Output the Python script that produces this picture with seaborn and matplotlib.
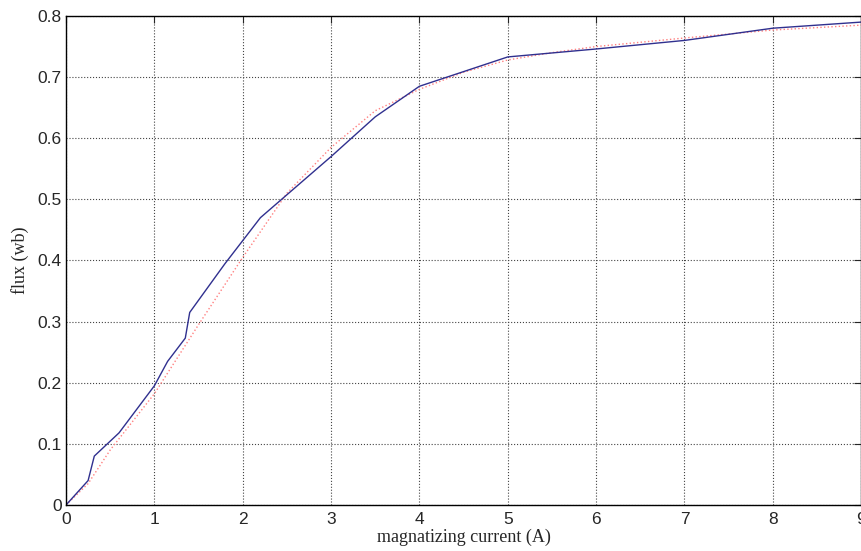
import pandas as pd
import matplotlib
matplotlib.use("Agg")
import matplotlib.pyplot as plt
import seaborn as sns

# measured curve (solid blue)
current_meas = [0, 0.25, 0.32, 0.6, 1.0, 1.15, 1.35, 1.4, 1.8, 2.2, 3.0, 3.5, 4.0, 5.0, 6.0, 7.0, 8.0, 9.0]
flux_meas = [0, 0.04, 0.08, 0.118, 0.195, 0.235, 0.273, 0.315, 0.395, 0.47, 0.57, 0.635, 0.685, 0.733, 0.746, 0.76, 0.78, 0.79]

# fitted curve (red dotted)
current_fit = [0, 0.25, 0.5, 1.0, 1.5, 2.0, 2.5, 3.0, 3.5, 4.0, 4.5, 5.0, 5.5, 6.0, 7.0, 8.0, 9.0]
flux_fit = [0, 0.035, 0.09, 0.182, 0.295, 0.405, 0.51, 0.585, 0.645, 0.68, 0.708, 0.728, 0.74, 0.75, 0.764, 0.777, 0.785]

df_meas = pd.DataFrame({"current": current_meas, "flux": flux_meas})
df_fit = pd.DataFrame({"current": current_fit, "flux": flux_fit})

sns.set_style("white")
fig = plt.figure(figsize=(8.62, 5.51), dpi=100)
ax = fig.add_axes([0.0766, 0.0835, 0.9224, 0.8875])

sns.lineplot(data=df_fit, x="current", y="flux", ax=ax, color="#ff8080",
             linestyle=":", linewidth=1.0, sort=False)
sns.lineplot(data=df_meas, x="current", y="flux", ax=ax, color="#30308f",
             linewidth=1.0, sort=False)

ax.set_xlim(0, 9)
ax.set_ylim(0, 0.8)
ax.set_xticks(range(0, 10))
ax.set_yticks([0, 0.1, 0.2, 0.3, 0.4, 0.5, 0.6, 0.7, 0.8])
ax.set_yticklabels(["0", "0.1", "0.2", "0.3", "0.4", "0.5", "0.6", "0.7", "0.8"])
ax.grid(True, linestyle=":", color="#444444", linewidth=0.8)
ax.tick_params(direction="in", length=5, labelsize=12.5, top=True, right=True)
ax.tick_params(axis="x", pad=5)
ax.tick_params(axis="y", pad=3)
for lbl in ax.get_xticklabels() + ax.get_yticklabels():
    lbl.set_family("Liberation Sans")
for s in ax.spines.values():
    s.set_color("black")
    s.set_linewidth(1.0)

ax.set_xlabel("magnatizing current (A)", family="Liberation Serif", fontsize=13, labelpad=1)
ax.set_ylabel("flux (wb)", family="Liberation Serif", fontsize=13, labelpad=6)

fig.savefig("out.png", dpi=100)
